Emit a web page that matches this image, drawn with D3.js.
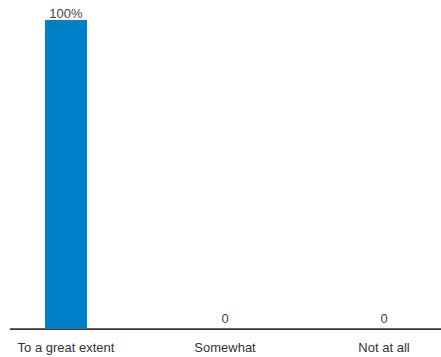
<!DOCTYPE html>
<html>
<head>
<meta charset="utf-8">
<script src="https://cdn.jsdelivr.net/npm/d3@7"></script>
<style>
  html, body { margin: 0; padding: 0; background: #fff; }
  svg { display: block; }
  text { font-family: "Liberation Sans", Arial, sans-serif; }
</style>
</head>
<body>
<svg id="chart" width="441" height="357"></svg>
<script>
const categories = ["To a great extent", "Somewhat", "Not at all"];
const values = [100, 0, 0];
const valueLabels = ["100%", "0", "0"];

const svg = d3.select("#chart");
const baseY = 328;
const x = d3.scaleBand().domain(categories).range([10, 440]).paddingInner(0.736).paddingOuter(0.22);
const y = d3.scaleLinear().domain([0, 100]).range([baseY, 20]);

svg.selectAll("rect.bar").data(categories).enter().append("rect")
  .attr("class", "bar")
  .attr("x", d => x(d))
  .attr("width", x.bandwidth())
  .attr("y", (d, i) => y(values[i]))
  .attr("height", (d, i) => baseY - y(values[i]))
  .attr("fill", "#0080c6");

svg.selectAll("text.val").data(categories).enter().append("text")
  .attr("class", "val")
  .attr("x", d => x(d) + x.bandwidth() / 2)
  .attr("y", (d, i) => y(values[i]) - (values[i] > 0 ? 2.5 : 5.5))
  .attr("text-anchor", "middle")
  .attr("font-size", 13)
  .attr("fill", "#444")
  .text((d, i) => valueLabels[i]);

const axis = d3.axisBottom(x).tickSize(0).tickPadding(15);
const g = svg.append("g").attr("transform", `translate(0,${baseY})`).call(axis);
g.select(".domain").remove();
g.selectAll(".tick text").attr("font-size", 13).attr("fill", "#333")
  .style("font-family", '"Liberation Sans", Arial, sans-serif');
g.append("line").attr("x1", 10).attr("x2", 441).attr("y1", 1.2).attr("y2", 1.2)
  .attr("stroke", "#333").attr("stroke-width", 1.8);
</script>
</body>
</html>
